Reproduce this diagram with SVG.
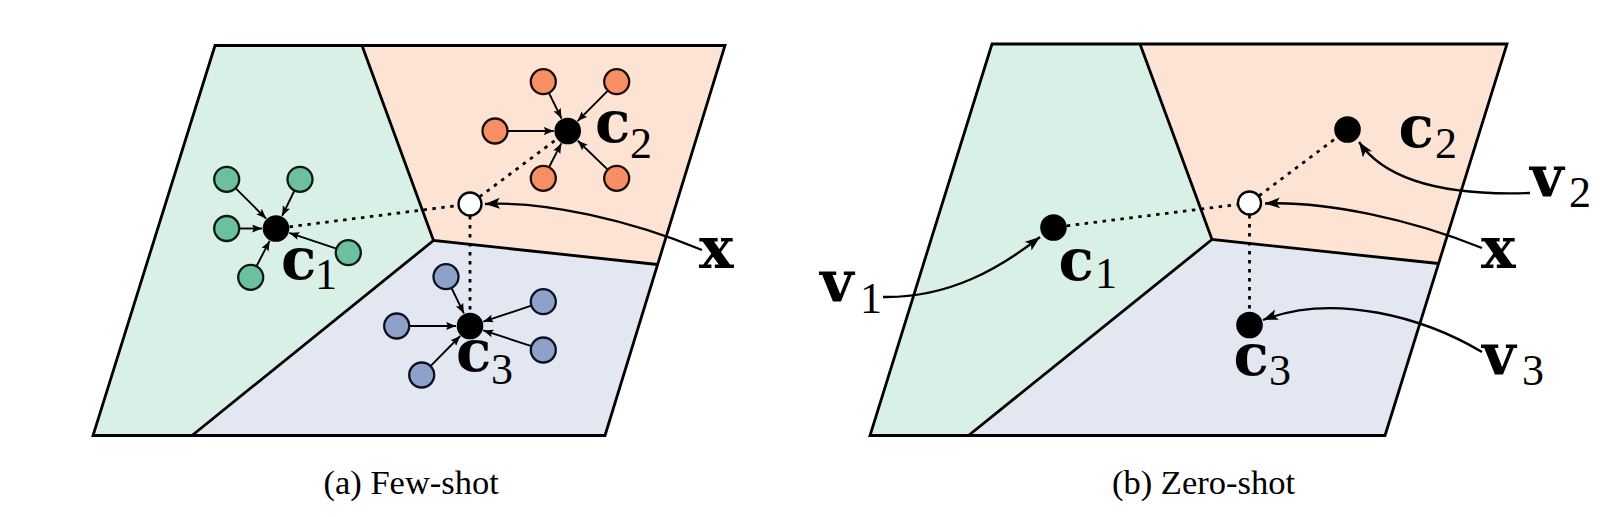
<svg xmlns="http://www.w3.org/2000/svg" width="1617" height="517" viewBox="0 0 1617 517">
<style>
.bd{fill:none;stroke:#000;stroke-width:2.8;stroke-linejoin:miter}
.rg{fill:#d9f0e6}.ro{fill:#fde3d4}.rb{fill:#e3e7f2}
.pg{fill:#6cc0a0;stroke:#0d1a14;stroke-width:2.3}
.po{fill:#f78f64;stroke:#1a0d08;stroke-width:2.3}
.pb{fill:#8ea1c9;stroke:#0d1020;stroke-width:2.3}
.cen{fill:#000}
.qx{fill:#fff;stroke:#000;stroke-width:2.3}
.ar{fill:none;stroke:#000;stroke-width:1.9;marker-end:url(#ah)}
.cv{fill:none;stroke:#000;stroke-width:2.3;marker-end:url(#ahb)}
.dt{fill:none;stroke:#000;stroke-width:2.8;stroke-dasharray:3.5 5.5}
.m{font-family:"DejaVu Serif","Liberation Serif",serif;font-weight:bold;font-size:58px;fill:#000}
.s{font-family:"Liberation Serif","Times New Roman","DejaVu Serif",serif;font-size:44px;fill:#000}
.cap{font-family:"Liberation Serif","Times New Roman","DejaVu Serif",serif;font-size:34.5px;fill:#000}
</style>
<defs>
<marker id="ah" markerUnits="userSpaceOnUse" markerWidth="11" markerHeight="9" refX="10" refY="4" orient="auto">
<path d="M0,0 L10,4 L0,8 L2,4 z" fill="#000"/>
</marker>
<marker id="ahb" markerUnits="userSpaceOnUse" markerWidth="17" markerHeight="12" refX="15" refY="5.5" orient="auto">
<path d="M0,0 L15,5.5 L0,11 L3.5,5.5 z" fill="#000"/>
</marker>
</defs>
<rect width="1617" height="517" fill="#fff"/>

<g id="panel-a">
<polygon class="rg" points="215,45.5 362,45.5 433.5,240.5 192,435.5 93,435.5"/>
<polygon class="ro" points="362,45.5 725,45.5 657.5,264.5 433.5,240.5"/>
<polygon class="rb" points="433.5,240.5 657.5,264.5 605,435.5 192,435.5"/>
<polyline class="bd" points="362,45.5 433.5,240.5 657.5,264.5"/>
<line class="bd" x1="433.5" y1="240.5" x2="192" y2="435.5"/>
<polygon class="bd" points="215,45.5 725,45.5 605,435.5 93,435.5"/>
</g>

<g id="panel-b">
<polygon class="rg" points="992,44 1140,44 1212,239.5 968.5,435.5 870,435.5"/>
<polygon class="ro" points="1140,44 1507,44 1438.5,263.5 1212,239.5"/>
<polygon class="rb" points="1212,239.5 1438.5,263.5 1385,435.5 968.5,435.5"/>
<polyline class="bd" points="1140,44 1212,239.5 1438.5,263.5"/>
<line class="bd" x1="1212" y1="239.5" x2="968.5" y2="435.5"/>
<polygon class="bd" points="992,44 1507,44 1385,435.5 870,435.5"/>
</g>

<g id="connectors">
<line class="ar" x1="235.5" y1="188.1" x2="266.1" y2="218.6"/>
<line class="ar" x1="294.5" y1="190.5" x2="282.1" y2="215.9"/>
<line class="ar" x1="239.2" y1="228.5" x2="262" y2="228.5"/>
<line class="ar" x1="336.4" y1="248.7" x2="289.3" y2="232.9"/>
<line class="ar" x1="256.5" y1="266.2" x2="269.6" y2="240.9"/>
<line class="ar" x1="548.9" y1="92.9" x2="561.5" y2="118.5"/>
<line class="ar" x1="607.9" y1="90.6" x2="577.6" y2="121.1"/>
<line class="ar" x1="507.5" y1="131" x2="553.7" y2="131"/>
<line class="ar" x1="549" y1="167.2" x2="561.3" y2="143.4"/>
<line class="ar" x1="607.7" y1="169.6" x2="577.8" y2="140.7"/>
<line class="ar" x1="451.5" y1="288" x2="463.9" y2="313.4"/>
<line class="ar" x1="409.2" y1="326" x2="456" y2="326"/>
<line class="ar" x1="531.4" y1="305.6" x2="483.3" y2="321.6"/>
<line class="ar" x1="531.4" y1="346.1" x2="483.3" y2="330.4"/>
<line class="ar" x1="430.5" y1="366.1" x2="460.2" y2="336"/>
<line class="dt" x1="289.5" y1="226.8" x2="458.1" y2="205.5"/>
<line class="dt" x1="479.6" y1="196.8" x2="557.1" y2="138.9"/>
<line class="dt" x1="470" y1="216" x2="470" y2="312.5"/>
<path class="cv" d="M702,250 C630,220 545,201 485,204"/>
<line class="dt" x1="1066.8" y1="225.8" x2="1237.6" y2="204.5"/>
<line class="dt" x1="1259.1" y1="195.8" x2="1337.1" y2="137.3"/>
<line class="dt" x1="1249.5" y1="215" x2="1249.5" y2="312"/>
<path class="cv" d="M1482,248 C1410,219 1325,201 1265,203.5"/>
<path class="cv" d="M883,297 C950,298 1000,268 1040,237"/>
<path class="cv" d="M1530,193 C1445,196 1385,180 1359,142"/>
<path class="cv" d="M1482,352 C1425,318 1335,292 1263,320"/>
</g>

<g id="support-1">
<circle class="pg" cx="226.7" cy="179.3" r="12.5"/>
<circle class="pg" cx="300" cy="179.3" r="12.5"/>
<circle class="pg" cx="226.7" cy="228.5" r="12.5"/>
<circle class="pg" cx="348.3" cy="252.7" r="12.5"/>
<circle class="pg" cx="250.7" cy="277.3" r="12.5"/>
</g>
<g id="support-2">
<circle class="po" cx="543.3" cy="81.7" r="12.5"/>
<circle class="po" cx="616.7" cy="81.7" r="12.5"/>
<circle class="po" cx="495" cy="131" r="12.5"/>
<circle class="po" cx="543.3" cy="178.3" r="12.5"/>
<circle class="po" cx="616.7" cy="178.3" r="12.5"/>
</g>
<g id="support-3">
<circle class="pb" cx="446" cy="276.7" r="12.5"/>
<circle class="pb" cx="396.7" cy="326" r="12.5"/>
<circle class="pb" cx="543.3" cy="301.7" r="12.5"/>
<circle class="pb" cx="543.3" cy="350" r="12.5"/>
<circle class="pb" cx="421.7" cy="375" r="12.5"/>
</g>

<g id="a-c1"><circle class="cen" cx="276" cy="228.5" r="13.3"/>
<text class="m" x="281" y="278.5">c</text><text class="s" x="315" y="288.5">1</text></g>
<g id="a-c2"><circle class="cen" cx="567.7" cy="131" r="13.3"/>
<text class="m" x="595" y="142">c</text><text class="s" x="630" y="158">2</text></g>
<g id="a-c3"><circle class="cen" cx="470" cy="326" r="13.3"/>
<text class="m" x="456" y="370.5">c</text><text class="s" x="491" y="384">3</text></g>
<g id="a-x"><circle class="qx" cx="470" cy="204" r="11.5"/>
<text class="m" x="699" y="268">x</text></g>

<g id="b-c1"><circle class="cen" cx="1053.5" cy="227.5" r="13.3"/>
<text class="m" x="1058.5" y="280">c</text><text class="s" x="1095" y="288">1</text></g>
<g id="b-c2"><circle class="cen" cx="1347.5" cy="129.5" r="13.3"/>
<text class="m" x="1398.5" y="147">c</text><text class="s" x="1435" y="158">2</text></g>
<g id="b-c3"><circle class="cen" cx="1249.5" cy="325" r="13.3"/>
<text class="m" x="1233.5" y="375">c</text><text class="s" x="1269" y="385">3</text></g>
<g id="b-x"><circle class="qx" cx="1249.5" cy="203" r="11.5"/>
<text class="m" x="1481" y="268">x</text></g>
<g id="b-v1"><text class="m" x="820" y="301.5">v</text><text class="s" x="860" y="313">1</text></g>
<g id="b-v2"><text class="m" x="1530" y="197">v</text><text class="s" x="1569" y="206.5">2</text></g>
<g id="b-v3"><text class="m" x="1482" y="375">v</text><text class="s" x="1522" y="385">3</text></g>

<text class="cap" x="323.5" y="494">(a) Few-shot</text>
<text class="cap" x="1112" y="494">(b) Zero-shot</text>
</svg>
